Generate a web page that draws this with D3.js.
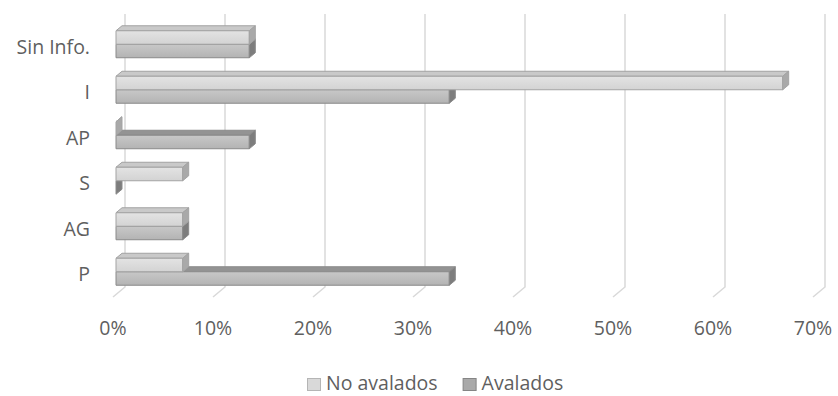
<!DOCTYPE html>
<html>
<head>
<meta charset="utf-8">
<script src="https://cdn.jsdelivr.net/npm/d3@7"></script>
<style>
  html, body { margin: 0; padding: 0; background: #fff; }
  svg { display: block; }
  text { font-family: "Open Sans", Lato, sans-serif; fill: #5f5f5f; }
</style>
</head>
<body>
<svg id="chart" width="838" height="396"></svg>
<script>
// ---- data ----
const categories = ["P", "AG", "S", "AP", "I", "Sin Info."];
const seriesNames = ["No avalados", "Avalados"];
const noAvalados = [0.0667, 0.0667, 0.0667, 0, 0.6667, 0.1333];
const avalados   = [0.3333, 0.0667, 0, 0.1333, 0.3333, 0.1333];
const tickValues = [0, 0.1, 0.2, 0.3, 0.4, 0.5, 0.6, 0.7];

const seriesValues = { "No avalados": noAvalados, "Avalados": avalados };

// ---- layout ----
const FS = 19.5;
const DX = 12, DY = 10;      // full depth offset
const Z0 = 0.25, Z1 = 0.75;  // bar depth span

const svg = d3.select("#chart");

const x = d3.scaleLinear().domain([0, 0.7]).range([113, 813]);
const y = d3.scaleBand().domain(categories).range([297, 24])
  .paddingInner(0.407).paddingOuter(0.2035);
const ys = d3.scaleBand().domain(seriesNames).range([0, y.bandwidth()]);

const proj = (v, yy, z) => [x(v) + z * DX, yy - z * DY];

const styles = {
  "No avalados": { top: "#c9c9c9", end: "#a9a9a9", stroke: "#a3a3a3", g0: "#e3e3e3", g1: "#d3d3d3", legFill: "#d9d9d9", legStroke: "#b5b5b5" },
  "Avalados":    { top: "#939393", end: "#7d7d7d", stroke: "#8a8a8a", g0: "#c8c8c8", g1: "#b3b3b3", legFill: "#a9a9a9", legStroke: "#858585" }
};

const defs = svg.append("defs");
seriesNames.forEach((s, i) => {
  const g = defs.append("linearGradient").attr("id", "grad" + i)
    .attr("x1", 0).attr("y1", 0).attr("x2", 0).attr("y2", 1);
  g.append("stop").attr("offset", "0%").attr("stop-color", styles[s].g0);
  g.append("stop").attr("offset", "100%").attr("stop-color", styles[s].g1);
});

// ---- gridlines (back wall + floor) ----
const grid = svg.append("g").attr("stroke", "#d9d9d9").attr("stroke-width", 1.5).attr("fill", "none");
const yFloor = y.range()[0], yTop = y.range()[1];
tickValues.forEach(t => {
  const a = proj(t, yTop, 1), b = proj(t, yFloor, 1), c = proj(t, yFloor, 0);
  grid.append("polyline").attr("points", [a, b, c].map(p => p.join(",")).join(" "));
});

// ---- tick labels ----
svg.append("g").selectAll("text").data(tickValues).join("text")
  .attr("x", d => x(d)).attr("y", 335)
  .attr("text-anchor", "middle").attr("font-size", FS)
  .text(d => d3.format(".0%")(d));

// ---- category labels ----
svg.append("g").selectAll("text").data(categories).join("text")
  .attr("x", 90).attr("y", d => y(d) + y.bandwidth() / 2 + FS * 0.36)
  .attr("text-anchor", "end").attr("font-size", FS)
  .text(d => d);

// ---- bars ----
const pts = arr => arr.map(p => p.join(",")).join(" ");
const barsG = svg.append("g");
// draw lower series first (Avalados), then upper (No avalados)
["Avalados", "No avalados"].forEach(s => {
  const st = styles[s];
  const gi = seriesNames.indexOf(s);
  categories.forEach((c, ci) => {
    const v = seriesValues[s][ci];
    const y0 = y(c) + ys(s);
    const y1 = y0 + ys.bandwidth();
    const g = barsG.append("g").attr("stroke", st.stroke).attr("stroke-width", 1).attr("stroke-linejoin", "round");
    // top face
    g.append("polygon").attr("fill", st.top)
      .attr("points", pts([proj(0, y0, Z0), proj(v, y0, Z0), proj(v, y0, Z1), proj(0, y0, Z1)]));
    // front face
    const f0 = proj(0, y0, Z0), f1 = proj(v, y1, Z0);
    g.append("rect").attr("fill", `url(#grad${gi})`)
      .attr("x", f0[0]).attr("y", f0[1]).attr("width", Math.max(0, f1[0] - f0[0])).attr("height", f1[1] - f0[1]);
    // end face
    g.append("polygon").attr("fill", st.end)
      .attr("points", pts([proj(v, y0, Z0), proj(v, y1, Z0), proj(v, y1, Z1), proj(v, y0, Z1)]));
  });
});

// ---- legend ----
const leg = svg.append("g");
let lx = 307;
seriesNames.forEach(s => {
  leg.append("rect").attr("x", lx + 0.5).attr("y", 378.5).attr("width", 13).attr("height", 12)
    .attr("fill", styles[s].legFill).attr("stroke", styles[s].legStroke);
  const t = leg.append("text").attr("x", lx + 19).attr("y", 390).attr("font-size", FS).text(s);
  lx = lx + 19 + t.node().getComputedTextLength() + 25;
});
</script>
</body>
</html>
